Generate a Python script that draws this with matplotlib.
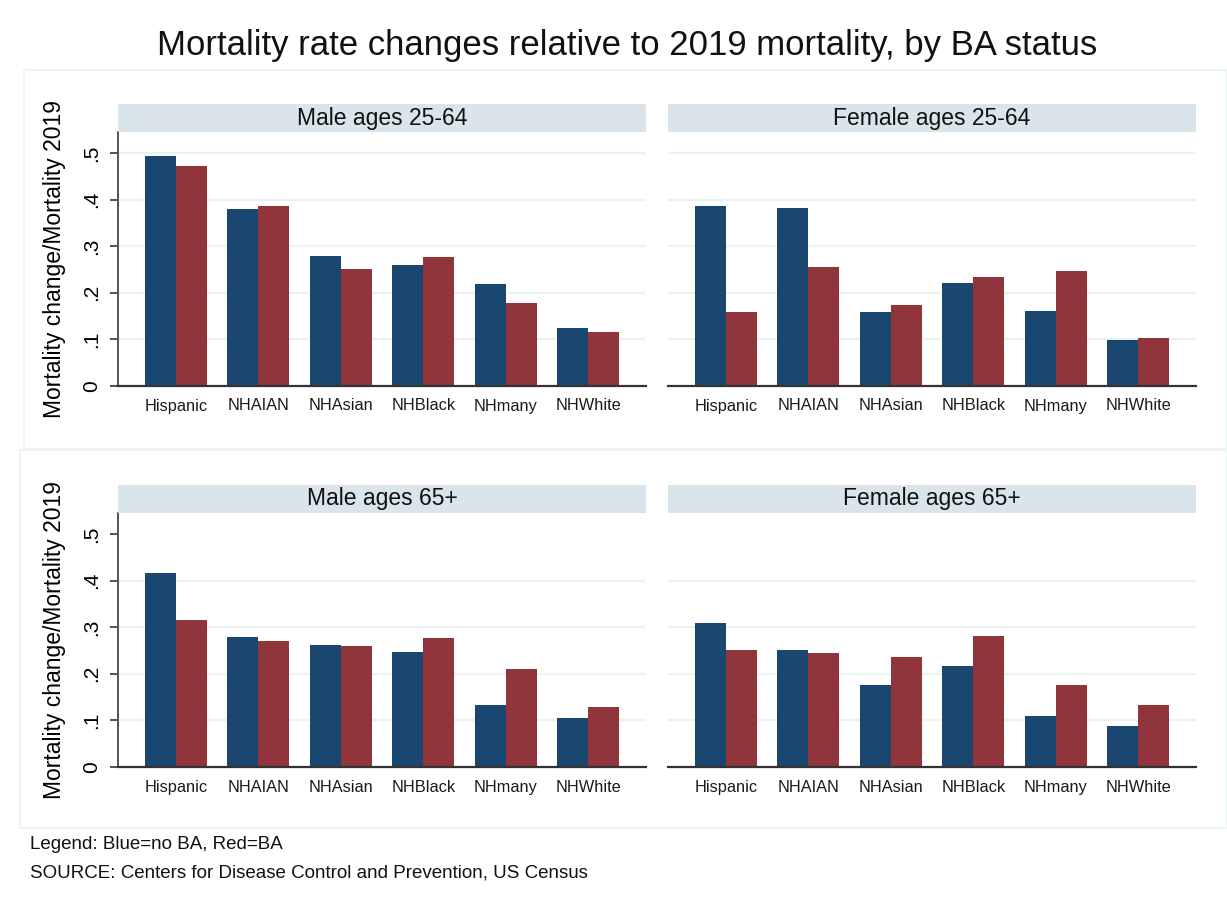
import matplotlib
matplotlib.use("Agg")
import matplotlib.pyplot as plt
import numpy as np
from matplotlib.patches import Rectangle

plt.rcParams['font.family'] = ['Liberation Sans', 'DejaVu Sans']

categories = ["Hispanic", "NHAIAN", "NHAsian", "NHBlack", "NHmany", "NHWhite"]
male_2564_noba = [0.494, 0.379, 0.278, 0.259, 0.218, 0.124]
male_2564_ba = [0.471, 0.387, 0.250, 0.276, 0.179, 0.115]
female_2564_noba = [0.387, 0.383, 0.158, 0.220, 0.160, 0.098]
female_2564_ba = [0.158, 0.256, 0.173, 0.233, 0.246, 0.104]
male_65_noba = [0.417, 0.278, 0.261, 0.246, 0.134, 0.106]
male_65_ba = [0.316, 0.271, 0.259, 0.276, 0.211, 0.128]
female_65_noba = [0.310, 0.252, 0.177, 0.216, 0.109, 0.089]
female_65_ba = [0.250, 0.244, 0.235, 0.282, 0.177, 0.134]
panel_titles = ["Male ages 25-64", "Female ages 25-64", "Male ages 65+", "Female ages 65+"]
yticks = [0, 0.1, 0.2, 0.3, 0.4, 0.5]
ytick_labels = ["0", ".1", ".2", ".3", ".4", ".5"]

BLUE = "#1a476f"
RED = "#90353b"
STRIP = "#d9e5eb"
GRID = "#eaf2f3"
AXC = "#555555"

W, H = 1227, 905
fig = plt.figure(figsize=(W / 100, H / 100), dpi=100)
fig.patch.set_facecolor("white")

def fx(px):
    return px / W

def fy(py):
    return 1 - py / H

# faint row frames
for (x0, y0, x1, y1) in [(24, 70, 1227, 449), (20, 450, 1227, 828)]:
    fig.patches.append(Rectangle((fx(x0), fy(y1)), fx(x1 - x0), (y1 - y0) / H,
                                 transform=fig.transFigure, fill=False,
                                 edgecolor=GRID, lw=1.2, zorder=0))

panels = [
    (male_2564_noba, male_2564_ba, 118, 386, True, True),
    (female_2564_noba, female_2564_ba, 668, 386, False, True),
    (male_65_noba, male_65_ba, 118, 767, True, False),
    (female_65_noba, female_65_ba, 668, 767, False, False),
]
ax_w = 528
ax_h = 254
strip_h = 28
x = np.arange(len(categories))
bw = 0.375

for (noba, ba, left, bottom, showy, top_row), title in zip(panels, panel_titles):
    ax = fig.add_axes([fx(left), fy(bottom), ax_w / W, ax_h / H])
    ax.bar(x - bw / 2, noba, width=bw, color=BLUE, zorder=3)
    ax.bar(x + bw / 2, ba, width=bw, color=RED, zorder=3)
    ax.set_xlim(-0.7, 5.7)
    ax.set_ylim(0, 0.545)
    grid_vals = [0.1, 0.2, 0.3, 0.4, 0.5] if top_row else [0.1, 0.2, 0.3, 0.4]
    for g in grid_vals:
        ax.axhline(g, color=GRID, lw=1.6, zorder=1)
    ax.set_xticks(x)
    ax.set_xticklabels(categories, fontsize=11.8, color="#1a1a1a")
    ax.tick_params(axis="x", length=0, pad=9)
    for s in ["top", "right"]:
        ax.spines[s].set_visible(False)
    ax.spines["bottom"].set_color("#333333")
    ax.spines["bottom"].set_linewidth(1.6)
    ax.spines["bottom"].set_zorder(4)
    if showy:
        ax.spines["left"].set_color(AXC)
        ax.spines["left"].set_linewidth(1.4)
        ax.set_yticks(yticks)
        ax.set_yticklabels(ytick_labels, fontsize=15, rotation=90, va="center")
        ax.tick_params(axis="y", length=6, width=1.2, color="#333333", pad=6)
        ax.set_ylabel("Mortality change/Mortality 2019", fontsize=16.5, labelpad=12)
    else:
        ax.spines["left"].set_visible(False)
        ax.set_yticks([])
    # strip
    sax = fig.add_axes([fx(left), fy(bottom - ax_h), ax_w / W, strip_h / H])
    sax.set_facecolor(STRIP)
    sax.set_xticks([])
    sax.set_yticks([])
    for s in sax.spines.values():
        s.set_visible(False)
    sax.text(0.5, 0.5, title, ha="center", va="center", fontsize=16.5,
             transform=sax.transAxes, color="#111111")

fig.text(0.511, fy(45), "Mortality rate changes relative to 2019 mortality, by BA status",
         ha="center", va="center", fontsize=25, color="#111111")
fig.text(fx(30), fy(844), "Legend: Blue=no BA, Red=BA", ha="left", va="center",
         fontsize=13.5, color="#111111")
fig.text(fx(30), fy(873), "SOURCE: Centers for Disease Control and Prevention, US Census",
         ha="left", va="center", fontsize=13.5, color="#111111")

fig.savefig("out.png", dpi=100)
